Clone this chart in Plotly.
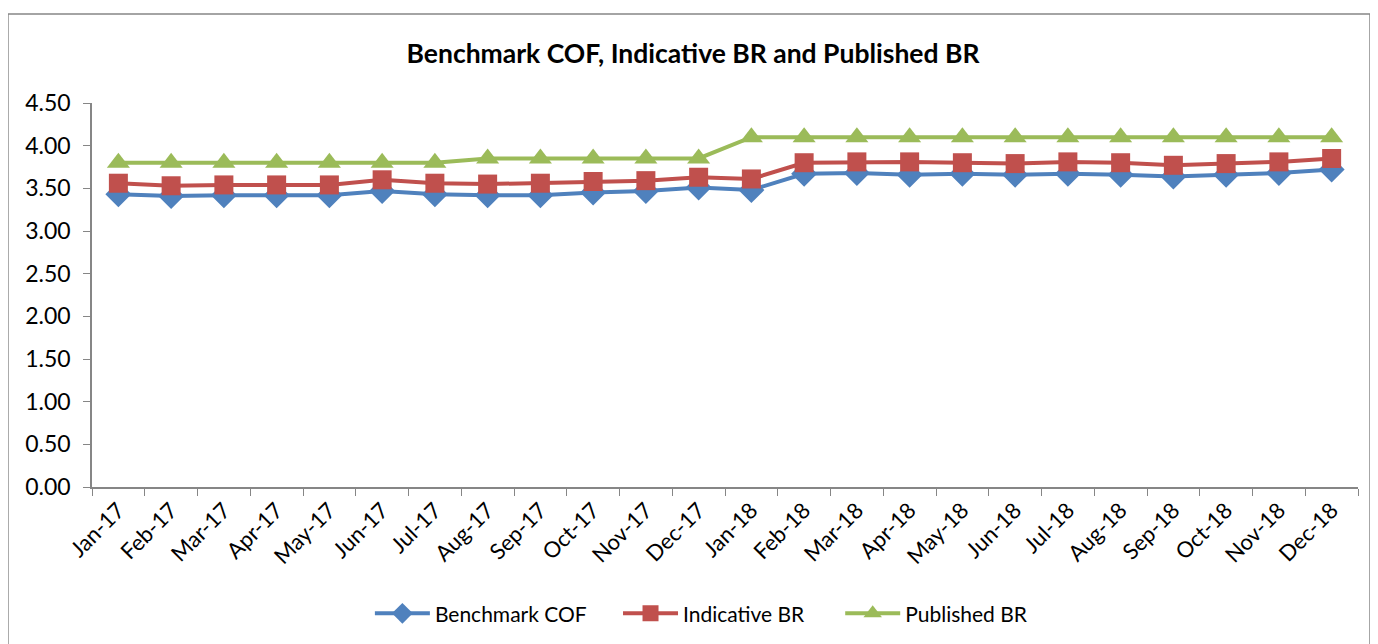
import plotly.graph_objects as go

months = ["Jan-17","Feb-17","Mar-17","Apr-17","May-17","Jun-17","Jul-17","Aug-17","Sep-17","Oct-17","Nov-17","Dec-17",
          "Jan-18","Feb-18","Mar-18","Apr-18","May-18","Jun-18","Jul-18","Aug-18","Sep-18","Oct-18","Nov-18","Dec-18"]
benchmark_cof = [3.43,3.41,3.42,3.42,3.42,3.47,3.43,3.42,3.42,3.45,3.47,3.51,
                 3.48,3.67,3.68,3.66,3.67,3.66,3.67,3.66,3.64,3.66,3.68,3.72]
indicative_br = [3.56,3.53,3.54,3.54,3.54,3.60,3.56,3.55,3.56,3.58,3.59,3.63,
                 3.61,3.80,3.81,3.81,3.80,3.79,3.81,3.80,3.77,3.79,3.81,3.85]
published_br = [3.80,3.80,3.80,3.80,3.80,3.80,3.80,3.85,3.85,3.85,3.85,3.85,
                4.10,4.10,4.10,4.10,4.10,4.10,4.10,4.10,4.10,4.10,4.10,4.10]
y_ticks = [0,0.5,1,1.5,2,2.5,3,3.5,4,4.5]

FONT = "Lato, 'Open Sans', sans-serif"

fig = go.Figure()
fig.add_trace(go.Scatter(x=months, y=benchmark_cof, name="Benchmark COF", mode="lines+markers",
                         line=dict(color="#4F81BD", width=4), legend="legend",
                         marker=dict(symbol="diamond", size=20, color="#4F81BD")))
fig.add_trace(go.Scatter(x=months, y=indicative_br, name="Indicative BR", mode="lines+markers",
                         line=dict(color="#C0504D", width=4), legend="legend2",
                         marker=dict(symbol="square", size=19, color="#C0504D")))
fig.add_trace(go.Scatter(x=months, y=published_br, name="Published BR", mode="lines+markers",
                         line=dict(color="#9BBB59", width=4), legend="legend3",
                         marker=dict(symbol="triangle-up", size=20, color="#9BBB59")))

def leg(xpos):
    return dict(orientation="h", x=xpos, xanchor="left", y=-0.33, yanchor="middle",
                font=dict(size=21, family=FONT), itemwidth=55, bgcolor="rgba(0,0,0,0)")

fig.update_layout(
    width=1370, height=636,
    margin=dict(l=84, r=20, t=95, b=157, autoexpand=False),
    paper_bgcolor="white", plot_bgcolor="white",
    font=dict(family=FONT, size=20, color="black"),
    title=dict(text="<b>Benchmark COF, Indicative BR and Published BR</b>", x=0.5, xanchor="center",
               y=0.928, yanchor="middle", font=dict(size=26.5, family=FONT)),
    showlegend=True,
    legend=leg(0.2195),
    legend2=leg(0.4155),
    legend3=leg(0.591),
    xaxis=dict(type="category", range=[-0.5, 23.5], tickangle=-45, showline=True, linecolor="#868686",
               linewidth=1.5, ticks="outside", tickson="boundaries", ticklen=7, tickcolor="#868686",
               showgrid=False, tickfont=dict(size=22), automargin=False),
    yaxis=dict(range=[0, 4.5], tickvals=y_ticks, tickformat=".2f", showline=True, linecolor="#868686",
               linewidth=1.5, ticks="outside", ticklen=7, tickcolor="#868686", showgrid=False,
               zeroline=False, tickfont=dict(size=23), ticklabelstandoff=8, automargin=False),
    shapes=[dict(type="rect", xref="paper", yref="paper", x0=-0.0664, x1=1.0095, y0=-0.45, y1=1.232,
                 line=dict(color="#868686", width=1.5), fillcolor="rgba(0,0,0,0)", layer="below")],
)

fig.write_html("out.html")
